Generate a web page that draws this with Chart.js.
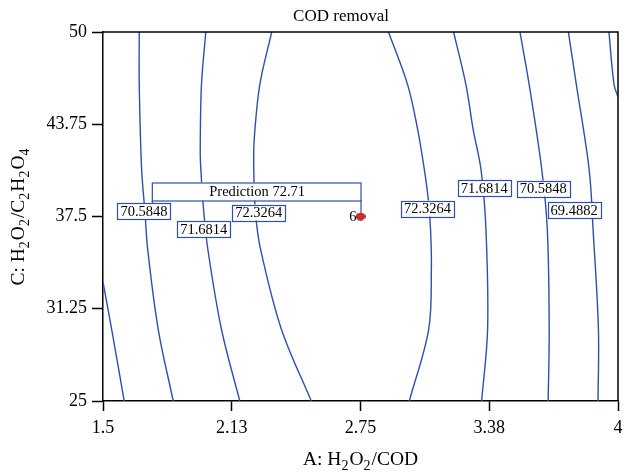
<!DOCTYPE html>
<html>
<head>
<meta charset="utf-8">
<script src="https://cdn.jsdelivr.net/npm/chart.js@4/dist/chart.umd.min.js"></script>
<style>
  html,body{margin:0;padding:0;background:#fff;}
  #wrap{width:624px;height:475px;}
</style>
</head>
<body>
<div id="wrap"><canvas id="c" width="624" height="475"></canvas></div>
<script>
// ---- data (A: H2O2/COD, C: H2O2/C2H2O4) ----
const xTicks = [1.5, 2.125, 2.75, 3.375, 4];
const xTickLabels = ['1.5', '2.13', '2.75', '3.38', '4'];
const yTicks = [25, 31.25, 37.5, 43.75, 50];
const yTickLabels = ['25', '31.25', '37.5', '43.75', '50'];

// contour lines as [A, C] pairs
const c69Left  = [[1.5,33.06],[1.542,29.86],[1.603,25]];
const c70Left  = [[1.676,50],[1.676,46.42],[1.6875,40.68],[1.7035,37.84],[1.717,35.27],[1.768,29.86],[1.841,25]];
const c71Left  = [[1.999,50],[1.978,46.42],[1.972,42],[1.975,40.68],[1.989,37.84],[2.009,35.27],[2.075,29.86],[2.164,25]];
const c72Left  = [[2.319,50],[2.261,46.42],[2.234,42.7],[2.232,40.68],[2.24,37.8],[2.265,35.27],[2.366,29.86],[2.511,25]];
const c72Right = [[2.886,50],[2.979,46.42],[3.026,43.5],[3.06,40.68],[3.079,38.65],[3.090,36.62],[3.094,33.92],[3.081,29.86],[2.987,25]];
const c71Right = [[3.202,50],[3.262,46.42],[3.297,43.38],[3.335,40.68],[3.359,36.62],[3.367,29.86],[3.338,25]];
const c70Right = [[3.524,50],[3.569,46.42],[3.630,40.68],[3.657,36.62],[3.666,29.86],[3.661,25]];
const c69Right = [[3.759,50],[3.798,46.42],[3.860,40.68],[3.879,36.62],[3.905,29.86],[3.903,25]];
const c68Right = [[3.956,50],[3.981,46.42],[4.0,45.61]];
const contours = [c69Left, c70Left, c71Left, c72Left, c72Right, c71Right, c70Right, c69Right, c68Right];

// contour labels
const labelTexts = ['70.5848', '71.6814', '72.3264', '72.3264', '71.6814', '70.5848', '69.4882'];
const labelA = [1.699, 1.989, 2.256, 3.075, 3.351, 3.637, 3.787];
const labelC = [37.84, 36.62, 37.77, 38.04, 39.43, 39.39, 37.91];

// prediction point
const predA = 2.75;
const predC = 37.5;
const predValue = '72.71';
const predRun = '6';
const predBoxLeftA = 1.737;

const BLUE = '#2f4fae';
const SERIF = '"Liberation Serif", "DejaVu Serif", serif';

// red ellipse marker
const marker = document.createElement('canvas');
marker.width = 10; marker.height = 8;
(function(){
  const m = marker.getContext('2d');
  m.beginPath();
  m.ellipse(5, 4, 4.3, 3.2, 0, 0, Math.PI * 2);
  m.fillStyle = '#e0262b';
  m.fill();
  m.lineWidth = 1;
  m.strokeStyle = '#7a0c0c';
  m.stroke();
})();

function richText(ctx, segs, x, y, size, align) {
  const widths = segs.map(s => {
    ctx.font = (s[1] ? size * 0.72 : size) + 'px ' + SERIF;
    return ctx.measureText(s[0]).width + (s[1] ? 1 : 0);
  });
  const total = widths.reduce((a, b) => a + b, 0);
  let cx = align === 'center' ? x - total / 2 : x;
  ctx.textAlign = 'left';
  ctx.textBaseline = 'alphabetic';
  segs.forEach((s, i) => {
    ctx.font = (s[1] ? size * 0.72 : size) + 'px ' + SERIF;
    ctx.fillText(s[0], cx, y + (s[1] ? size * 0.24 : 0));
    cx += widths[i];
  });
}

const datasets = [{
  data: [{x: predA, y: predC}],
  pointStyle: marker,
  pointRadius: 5,
  showLine: false
}];
contours.forEach(c => {
  datasets.push({
    data: c.map(p => ({x: p[0], y: p[1]})),
    showLine: true,
    borderColor: BLUE,
    borderWidth: 1.4,
    pointRadius: 0,
    tension: 0.35,
    fill: false
  });
});

const decorPlugin = {
  id: 'decor',
  afterDatasetDraw(chart, args) {
    if (args.index !== 1) return;
    const ctx = chart.ctx;
    const xs = chart.scales.x, ys = chart.scales.y;
    ctx.save();
    const px = xs.getPixelForValue(predA), py = ys.getPixelForValue(predC);
    const bl = xs.getPixelForValue(predBoxLeftA);
    const bTop = py - 34, bBot = py - 16;
    ctx.fillStyle = '#fff';
    ctx.fillRect(bl, bTop, px - bl, bBot - bTop);
    ctx.strokeStyle = BLUE;
    ctx.lineWidth = 1.2;
    ctx.strokeRect(bl + 0.5, bTop + 0.5, px - bl, bBot - bTop);
    ctx.beginPath();
    ctx.moveTo(px + 0.5, bBot); ctx.lineTo(px + 0.5, py - 2);
    ctx.moveTo(bl + 0.5, bBot); ctx.lineTo(bl + 0.5, bBot + 4);
    ctx.stroke();
    ctx.fillStyle = '#000';
    ctx.font = '14.5px ' + SERIF;
    ctx.textAlign = 'center';
    ctx.textBaseline = 'middle';
    ctx.fillText('Prediction ' + predValue, (bl + px) / 2 + 1, (bTop + bBot) / 2 + 1);
    ctx.textAlign = 'right';
    ctx.fillText(predRun, px - 4, py + 1);
    labelTexts.forEach((t, i) => {
      const x = xs.getPixelForValue(labelA[i]), y = ys.getPixelForValue(labelC[i]);
      ctx.font = '14.5px ' + SERIF;
      const w = ctx.measureText(t).width + 6, h = 16;
      ctx.fillStyle = '#fff';
      ctx.fillRect(x - w / 2, y - h / 2, w, h);
      ctx.strokeStyle = BLUE;
      ctx.lineWidth = 1.2;
      ctx.strokeRect(Math.round(x - w / 2) + 0.5, Math.round(y - h / 2) + 0.5, Math.round(w), h);
      ctx.fillStyle = '#000';
      ctx.textAlign = 'center';
      ctx.textBaseline = 'middle';
      ctx.fillText(t, x, y + 1);
    });
    ctx.restore();
  },
  afterDraw(chart) {
    const ctx = chart.ctx, a = chart.chartArea;
    ctx.save();
    ctx.strokeStyle = '#000';
    ctx.lineWidth = 1.5;
    ctx.beginPath();
    ctx.moveTo(a.left, a.top); ctx.lineTo(a.right, a.top); ctx.lineTo(a.right, a.bottom);
    ctx.stroke();
    ctx.fillStyle = '#000';
    ctx.font = '17px ' + SERIF;
    ctx.textAlign = 'center';
    ctx.textBaseline = 'middle';
    ctx.fillText('COD removal', 341, 17);
    richText(ctx, [['A: H', false], ['2', true], ['O', false], ['2', true], ['/COD', false]],
      (a.left + a.right) / 2, 465, 19.5, 'center');
    ctx.translate(24, (a.top + a.bottom) / 2);
    ctx.rotate(-Math.PI / 2);
    richText(ctx, [['C: H', false], ['2', true], ['O', false], ['2', true], ['/C', false], ['2', true],
      ['H', false], ['2', true], ['O', false], ['4', true]], 0, 0, 19.5, 'center');
    ctx.restore();
  }
};

const tickFont = {family: SERIF, size: 18};
new Chart(document.getElementById('c'), {
  type: 'scatter',
  data: {datasets},
  options: {
    responsive: false,
    animation: false,
    devicePixelRatio: 1,
    layout: {padding: {top: 32, right: 5, left: 0, bottom: 0}},
    plugins: {legend: {display: false}, tooltip: {enabled: false}, title: {display: false}},
    scales: {
      x: {
        type: 'linear', min: 1.5, max: 4,
        afterBuildTicks: s => { s.ticks = xTicks.map(v => ({value: v})); },
        afterFit: s => { s.height = 74; s.paddingLeft = 0; s.paddingRight = 0; },
        ticks: {callback: (v, i) => xTickLabels[i], font: tickFont, color: '#000', padding: 6, maxRotation: 0, autoSkip: false},
        grid: {drawOnChartArea: false, drawTicks: true, tickLength: 10, tickColor: '#000', tickWidth: 1.5},
        border: {color: '#000', width: 1.5}
      },
      y: {
        type: 'linear', min: 25, max: 50,
        afterBuildTicks: s => { s.ticks = yTicks.map(v => ({value: v})); },
        afterFit: s => { s.width = 103; s.paddingTop = 0; s.paddingBottom = 0; },
        ticks: {callback: (v, i) => yTickLabels[i], font: tickFont, color: '#000', padding: 5, autoSkip: false},
        grid: {drawOnChartArea: false, drawTicks: true, tickLength: 11, tickColor: '#000', tickWidth: 1.5},
        border: {color: '#000', width: 1.5}
      }
    }
  },
  plugins: [decorPlugin]
});
</script>
</body>
</html>
